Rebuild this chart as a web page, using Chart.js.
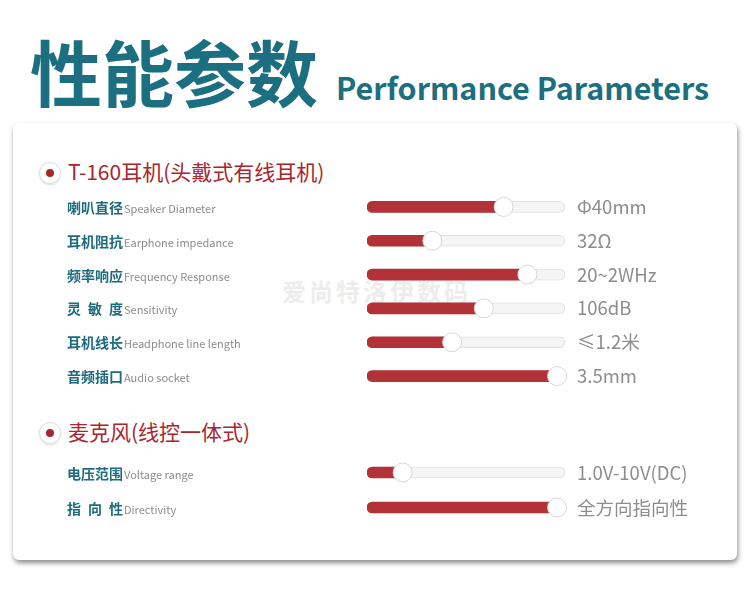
<!DOCTYPE html>
<html>
<head>
<meta charset="utf-8">
<script src="https://cdn.jsdelivr.net/npm/chart.js@4.4.1/dist/chart.umd.min.js"></script>
<style>
  body { margin: 0; width: 750px; height: 595px; background: #fff; position: relative; overflow: hidden;
         font-family: "Noto Sans CJK SC", "Noto Sans", sans-serif; }
  .title { position: absolute; left: 30px; top: 34px; color: #1b6f80; font-weight: 700; font-size: 72px; line-height: 1; }
  .subtitle { position: absolute; left: 336px; top: 72px; color: #1b6f80; font-weight: 700; font-size: 30.5px; line-height: 1; }
  .card { position: absolute; left: 13px; top: 123px; width: 724px; height: 437px; background: #fff;
          border-radius: 6px; box-shadow: 1px 3px 5px rgba(0,0,0,0.45); }
  .head { position: absolute; left: 68px; color: #a8262d; font-size: 21px; line-height: 1; }
  .radio { position: absolute; left: 39px; width: 20px; height: 20px; border-radius: 50%;
           border: 1px solid #dedede; box-shadow: 0 1px 2px rgba(0,0,0,0.15); }
  .radio::after { content: ""; position: absolute; left: 6px; top: 6px; width: 8px; height: 8px;
                  border-radius: 50%; background: #a8262d; }
  .mark { position: absolute; left: 282px; top: 273px; color: rgba(190,190,190,0.28); font-size: 24px; font-weight: 700; letter-spacing: 3px; }
  .box { position: absolute; left: 60px; width: 660px; }
</style>
</head>
<body>
<div class="title">性能参数</div>
<div class="subtitle">Performance Parameters</div>
<div class="card"></div>
<div class="radio" style="top:162px"></div>
<div class="head" style="top:161px">T-160耳机(头戴式有线耳机)</div>
<div class="radio" style="top:422px"></div>
<div class="head" style="top:421px">麦克风(线控一体式)</div>
<div class="mark">爱尚特洛伊数码</div>
<div class="box" style="top:190px;height:203px"><canvas id="c1"></canvas></div>
<div class="box" style="top:455px;height:70px"><canvas id="c2"></canvas></div>
<script>
// headphone specs
const phoneNames = ["喇叭直径", "耳机阻抗", "频率响应", "灵\u2002敏\u2002度", "耳机线长", "音频插口"];
const phoneEnglish = ["Speaker Diameter", "Earphone impedance", "Frequency Response", "Sensitivity", "Headphone line length", "Audio socket"];
const phoneLevels = [69, 33, 81, 59, 43, 96];
const phoneValues = ["Φ40mm", "32Ω", "20~2WHz", "106dB", "≤1.2米", "3.5mm"];

// microphone specs
const micNames = ["电压范围", "指\u2002向\u2002性"];
const micEnglish = ["Voltage range", "Directivity"];
const micLevels = [18, 96];
const micValues = ["1.0V-10V(DC)", "全方向指向性"];

const fullTrack = 100;

// draws the left labels and right value text for each row
const rowText = {
  id: "rowText",
  afterDraw(chart, args, opts) {
    const ctx = chart.ctx;
    const y = chart.scales.y;
    ctx.save();
    ctx.textBaseline = "alphabetic";
    opts.names.forEach((name, i) => {
      const py = y.getPixelForValue(i) + 6;
      ctx.font = "bold 14px 'Noto Sans CJK SC'";
      ctx.fillStyle = "#1d6b7c";
      ctx.fillText(name, 7, py);
      const w = ctx.measureText(name).width;
      ctx.font = "11px 'Noto Sans CJK SC'";
      ctx.fillStyle = "#8c8c8c";
      ctx.fillText(opts.english[i], 7 + w + 1, py);
      ctx.font = "18.5px 'Noto Sans CJK SC'";
      ctx.fillStyle = "#8d8d8d";
      ctx.fillText(opts.values[i], chart.chartArea.right + 12, py + 1);
    });
    ctx.restore();
  }
};

function sliderChart(id, names, english, levels, values) {
  return new Chart(document.getElementById(id), {
    type: "bar",
    data: {
      labels: names,
      datasets: [{
        type: "line",
        data: levels,
        showLine: false,
        pointRadius: 9.5,
        pointBackgroundColor: "#ffffff",
        pointBorderColor: "#d6d6d6",
        pointBorderWidth: 1,
        clip: false,
        order: 0
      }, {
        data: levels,
        backgroundColor: "#b23237",
        borderRadius: 6,
        borderSkipped: false,
        barThickness: 11,
        grouped: false,
        order: 1
      }, {
        data: names.map(() => fullTrack),
        backgroundColor: "#f5f5f5",
        borderColor: "#e0e0e0",
        borderWidth: 1,
        borderRadius: 6,
        borderSkipped: false,
        barThickness: 11,
        grouped: false,
        order: 2
      }]
    },
    options: {
      indexAxis: "y",
      responsive: true,
      maintainAspectRatio: false,
      animation: false,
      layout: { autoPadding: false, padding: { left: 307, right: 155, top: 0, bottom: 0 } },
      scales: {
        x: { min: 0, max: 100, display: false },
        y: { display: false }
      },
      plugins: {
        legend: { display: false },
        tooltip: { enabled: false },
        rowText: { names: names, english: english, values: values }
      }
    },
    plugins: [rowText]
  });
}

sliderChart("c1", phoneNames, phoneEnglish, phoneLevels, phoneValues);
sliderChart("c2", micNames, micEnglish, micLevels, micValues);
</script>
</body>
</html>
